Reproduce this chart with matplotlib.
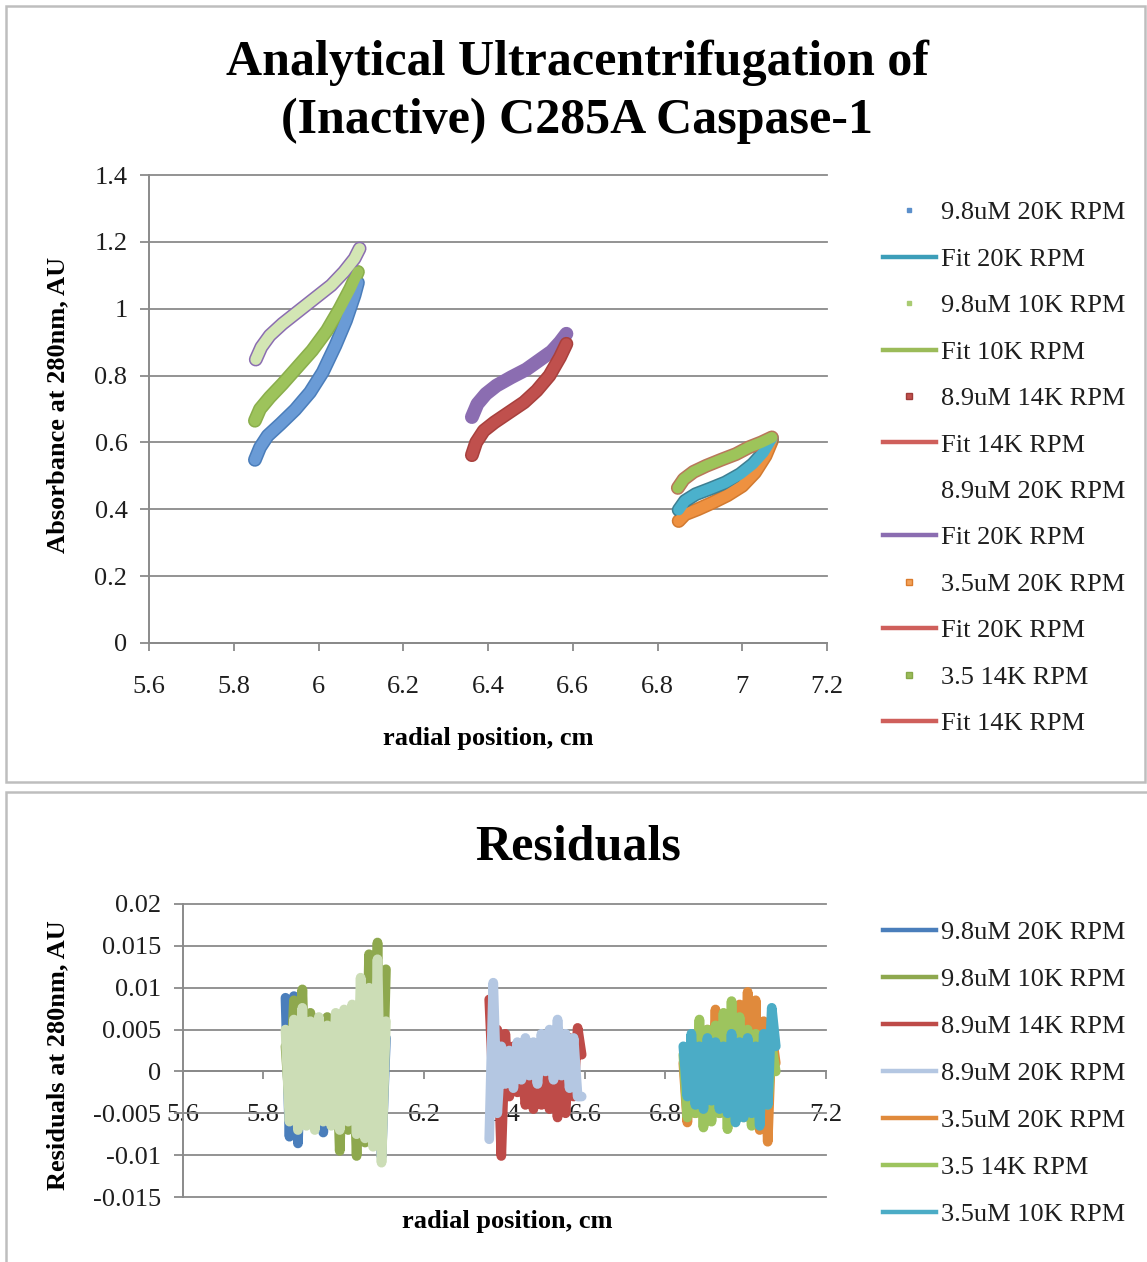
import matplotlib
matplotlib.use('Agg')
import matplotlib.pyplot as plt
from matplotlib.lines import Line2D
from matplotlib.patches import Rectangle
from matplotlib.ticker import FuncFormatter, MultipleLocator

plt.rcParams['font.family'] = ['Liberation Serif', 'DejaVu Serif']

# ---------------- data: top chart (radial position cm, absorbance AU) -------------
x_98_20k = [5.850, 5.862, 5.880, 5.910, 5.945, 5.980, 6.010, 6.040, 6.065, 6.085, 6.093]
y_98_20k = [0.548, 0.585, 0.620, 0.655, 0.698, 0.750, 0.810, 0.890, 0.965, 1.040, 1.078]

x_98_10k = [5.850, 5.862, 5.885, 5.915, 5.950, 5.985, 6.020, 6.050, 6.075, 6.093]
y_98_10k = [0.665, 0.700, 0.735, 0.775, 0.825, 0.875, 0.935, 1.000, 1.060, 1.110]

x_98_14k = [5.852, 5.865, 5.885, 5.915, 5.950, 5.990, 6.030, 6.060, 6.085, 6.097]
y_98_14k = [0.848, 0.885, 0.920, 0.955, 0.990, 1.030, 1.070, 1.110, 1.150, 1.180]

x_89_20k = [6.362, 6.375, 6.395, 6.420, 6.455, 6.490, 6.520, 6.550, 6.570, 6.585]
y_89_20k = [0.676, 0.715, 0.745, 0.770, 0.795, 0.818, 0.845, 0.872, 0.900, 0.925]

x_89_14k = [6.362, 6.372, 6.390, 6.415, 6.450, 6.485, 6.515, 6.545, 6.570, 6.585]
y_89_14k = [0.562, 0.600, 0.635, 0.660, 0.690, 0.720, 0.755, 0.800, 0.855, 0.895]

x_35_14k = [6.848, 6.862, 6.885, 6.915, 6.950, 6.985, 7.015, 7.045, 7.070]
y_35_14k = [0.464, 0.490, 0.512, 0.530, 0.548, 0.565, 0.585, 0.600, 0.615]

x_35_10k = [6.850, 6.865, 6.890, 6.925, 6.960, 6.995, 7.025, 7.050, 7.070]
y_35_10k = [0.398, 0.425, 0.445, 0.462, 0.480, 0.505, 0.535, 0.570, 0.612]

x_35_20k = [6.850, 6.865, 6.895, 6.930, 6.965, 7.000, 7.030, 7.055, 7.070]
y_35_20k = [0.365, 0.385, 0.400, 0.420, 0.442, 0.470, 0.510, 0.560, 0.605]

top_legend_labels = ['9.8uM 20K RPM', 'Fit 20K RPM', '9.8uM 10K RPM', 'Fit 10K RPM',
                     '8.9uM 14K RPM', 'Fit 14K RPM', '8.9uM 20K RPM', 'Fit 20K RPM',
                     '3.5uM 20K RPM', 'Fit 20K RPM', '3.5 14K RPM', 'Fit 14K RPM']

# ---------------- data: residuals --------------------------------------------------
rx_left = [5.855, 5.865, 5.876, 5.886, 5.897, 5.907, 5.917, 5.928, 5.938, 5.949, 5.959, 5.969,
           5.980, 5.990, 6.001, 6.011, 6.021, 6.032, 6.042, 6.053, 6.063, 6.073, 6.084, 6.094, 6.105]
r_98_20k = [0.0088, -0.0078, 0.0090, -0.0086, 0.0070, -0.0060, 0.0066, -0.0055, 0.0060, -0.0073,
            0.0050, -0.0045, 0.0055, -0.0060, 0.0045, -0.0050, 0.0060, -0.0065, 0.0080, -0.0070,
            0.0124, -0.0080, 0.0110, -0.0102, 0.0040]
r_98_10k = [0.0030, -0.0040, 0.0085, -0.0050, 0.0098, -0.0060, 0.0070, -0.0065, 0.0060, -0.0050,
            0.0065, -0.0060, 0.0055, -0.0095, 0.0050, -0.0070, 0.0060, -0.0101, 0.0080, -0.0085,
            0.0140, -0.0060, 0.0154, -0.0080, 0.0122]
r_98_14k = [0.0050, -0.0060, 0.0062, -0.0070, 0.0076, -0.0065, 0.0060, -0.0070, 0.0065, -0.0060,
            0.0055, -0.0065, 0.0070, -0.0070, 0.0074, -0.0060, 0.0080, -0.0075, 0.0112, -0.0080,
            0.0100, -0.0090, 0.0134, -0.0109, 0.0060]

rx_mid = [6.362, 6.372, 6.382, 6.392, 6.402, 6.412, 6.422, 6.432, 6.442, 6.452, 6.462, 6.472,
          6.482, 6.492, 6.502, 6.512, 6.522, 6.532, 6.542, 6.552, 6.562, 6.572, 6.582, 6.592]
r_89_14k = [0.0086, -0.0020, 0.0050, -0.0101, 0.0045, -0.0030, 0.0030, -0.0025, 0.0015, -0.0040,
            0.0005, -0.0045, 0.0010, -0.0040, -0.0005, -0.0045, 0.0005, -0.0055, 0.0015, -0.0050,
            0.0040, -0.0030, 0.0052, 0.0020]
r_89_20k = [-0.0081, 0.0106, -0.0050, 0.0030, -0.0015, 0.0025, -0.0020, 0.0035, -0.0010, 0.0040,
            -0.0005, 0.0035, -0.0015, 0.0045, 0.0000, 0.0050, -0.0010, 0.0062, -0.0005, 0.0045,
            -0.0020, 0.0040, -0.0030, -0.0030]

rx_right = [6.845, 6.855, 6.865, 6.875, 6.885, 6.895, 6.905, 6.915, 6.925, 6.935, 6.945, 6.955,
            6.965, 6.975, 6.985, 6.995, 7.005, 7.015, 7.025, 7.035, 7.045, 7.055, 7.065, 7.075]
r_35_20k = [0.0010, -0.0061, 0.0030, -0.0050, 0.0040, -0.0035, 0.0050, -0.0045, 0.0074, -0.0050,
            0.0055, -0.0040, 0.0065, -0.0055, 0.0080, -0.0045, 0.0095, -0.0060, 0.0085, -0.0070,
            0.0060, -0.0084, 0.0045, 0.0010]
r_35_14k = [0.0020, -0.0055, 0.0040, -0.0050, 0.0062, -0.0067, 0.0050, -0.0060, 0.0055, -0.0050,
            0.0070, -0.0069, 0.0084, -0.0045, 0.0065, -0.0055, 0.0050, -0.0065, 0.0045, -0.0050,
            0.0035, -0.0040, 0.0030, 0.0000]
r_35_10k = [0.0030, -0.0030, 0.0045, -0.0040, 0.0030, -0.0045, 0.0040, -0.0035, 0.0035, -0.0045,
            0.0030, -0.0050, 0.0045, -0.0061, 0.0035, -0.0055, 0.0040, -0.0050, 0.0030, -0.0065,
            0.0045, -0.0040, 0.0076, 0.0030]

resid_labels = ['9.8uM 20K RPM', '9.8uM 10K RPM', '8.9uM 14K RPM', '8.9uM 20K RPM',
                '3.5uM 20K RPM', '3.5 14K RPM', '3.5uM 10K RPM']

# ---------------- figure -----------------------------------------------------------
W, H = 1147, 1262
fig = plt.figure(figsize=(W / 100, H / 100), dpi=100)


def fx(px):
    return px / W


def fy(py):
    return 1 - py / H


# chart frames
for (x0, y0, x1, y1) in [(6, 6, 1145, 782), (6, 792, 1160, 1280)]:
    fig.add_artist(Rectangle((fx(x0), fy(y1)), fx(x1) - fx(x0), fy(y0) - fy(y1),
                             transform=fig.transFigure, fill=False, ec='#BEBEBE', lw=1.8,
                             clip_on=False))

GRID = '#8A8A8A'
TXT = '#1E1E1E'
fmt = FuncFormatter(lambda v, p: ('%g' % round(v, 6)))


def style(ax):
    for s in ['top', 'right']:
        ax.spines[s].set_visible(False)
    for s in ['left', 'bottom']:
        ax.spines[s].set_color(GRID)
        ax.spines[s].set_linewidth(1.4)
    ax.set_axisbelow(True)
    ax.yaxis.grid(True, color=GRID, lw=1.3)
    ax.tick_params(axis='both', direction='out', color=GRID, width=1.3,
                   labelsize=19, labelcolor=TXT)
    ax.tick_params(axis='y', length=6.5, pad=9)
    ax.tick_params(axis='x', length=5.8, pad=18)
    ax.xaxis.set_major_formatter(fmt)
    ax.yaxis.set_major_formatter(fmt)


# ---------------- top chart --------------------------------------------------------
ax1 = fig.add_axes([fx(149), fy(643), fx(827) - fx(149), fy(175) - fy(643)])
style(ax1)
ax1.set_xlim(5.6, 7.2)
ax1.set_ylim(0, 1.4)
ax1.xaxis.set_major_locator(MultipleLocator(0.2))
ax1.yaxis.set_major_locator(MultipleLocator(0.2))

FIT_TEAL = '#3C9EB9'
FIT_GREEN = '#9BBB59'
FIT_RED = '#CF5F5B'
FIT_PURPLE = '#8B6DB1'

curves = [
    (x_98_20k, y_98_20k, '#4A7DBA', '#6A9BD6', 10.0),
    (x_98_10k, y_98_10k, '#8AAE4C', '#9DC35B', 10.0),
    (x_98_14k, y_98_14k, FIT_PURPLE, '#D3E6B4', 10.0),
    (x_89_14k, y_89_14k, '#A8403D', '#C0504D', 10.0),
    (x_35_20k, y_35_20k, '#D27A30', '#EE9140', 10.0),
    (x_35_10k, y_35_10k, '#3E7F92', '#4BB1CC', 10.0),
    (x_35_14k, y_35_14k, '#B9775A', '#9DC45A', 10.0),
]
ax1.plot(x_89_20k, y_89_20k, color=FIT_PURPLE, lw=10, solid_capstyle='round',
         solid_joinstyle='round', zorder=3)
for xs, ys, edge, fill, w in curves:
    ax1.plot(xs, ys, color=edge, lw=w, solid_capstyle='round', solid_joinstyle='round', zorder=3)
    ax1.plot(xs, ys, color=fill, lw=w - 2.2, solid_capstyle='round', solid_joinstyle='round',
             zorder=4)
for ln in ax1.get_ygridlines():
    ln.set_clip_on(False)

top_handles = [
    Line2D([], [], ls='none', marker='s', ms=3.5, mfc='#5B8FCB', mec='#5B8FCB'),
    Line2D([], [], color=FIT_TEAL, lw=3.2),
    Line2D([], [], ls='none', marker='s', ms=3.5, mfc='#A9CB72', mec='#A9CB72'),
    Line2D([], [], color=FIT_GREEN, lw=3.2),
    Line2D([], [], ls='none', marker='s', ms=5, mfc='#C0504D', mec='#9E3B38'),
    Line2D([], [], color=FIT_RED, lw=3.2),
    Line2D([], [], ls='none', marker='none'),
    Line2D([], [], color=FIT_PURPLE, lw=3.2),
    Line2D([], [], ls='none', marker='s', ms=5, mfc='#F3A25A', mec='#DB7B2C'),
    Line2D([], [], color=FIT_RED, lw=3.2),
    Line2D([], [], ls='none', marker='s', ms=5, mfc='#9BBB59', mec='#86A848'),
    Line2D([], [], color=FIT_RED, lw=3.2),
]
leg1 = ax1.legend(top_handles, top_legend_labels, loc='upper left',
                  bbox_to_anchor=(fx(883), fy(201)), bbox_transform=fig.transFigure,
                  frameon=False, fontsize=19, handlelength=2.0, handletextpad=0.2,
                  labelspacing=0.87, borderpad=0, borderaxespad=0)
for t in leg1.get_texts():
    t.set_color(TXT)

fig.text(fx(577), fy(75), 'Analytical Ultracentrifugation of', ha='center', va='baseline',
         fontsize=36, fontweight='bold', color='black')
fig.text(fx(577), fy(133), '(Inactive) C285A Caspase-1', ha='center', va='baseline',
         fontsize=36, fontweight='bold', color='black')
fig.text(fx(488), fy(745), 'radial position, cm', ha='center', va='baseline',
         fontsize=19, fontweight='bold', color='black')
fig.text(fx(58), fy(405), 'Absorbance at 280nm, AU', ha='center', va='center',
         rotation=90, fontsize=19, fontweight='bold', color='black')

# ---------------- residual chart ---------------------------------------------------
ax2 = fig.add_axes([fx(183), fy(1197), fx(826) - fx(183), fy(904) - fy(1197)])
style(ax2)
ax2.set_xlim(5.6, 7.2)
ax2.set_ylim(-0.015, 0.02)
ax2.xaxis.set_major_locator(MultipleLocator(0.2))
ax2.yaxis.set_major_locator(MultipleLocator(0.005))
ax2.spines['bottom'].set_position(('data', 0))
ax2.tick_params(axis='x', pad=18)
for ln in ax2.get_ygridlines():
    ln.set_clip_on(False)

res_series = [
    (rx_left, r_98_20k, '#4A7EBB'),
    (rx_left, r_98_10k, '#8EA84E'),
    (rx_mid, r_89_14k, '#BE4B48'),
    (rx_mid, r_89_20k, '#B4C7E2'),
    (rx_right, r_35_20k, '#E08A3C'),
    (rx_right, r_35_14k, '#9DC45E'),
    (rx_right, r_35_10k, '#4BACC6'),
]
for xs, ys, c in res_series:
    ax2.plot(xs, ys, color=c, lw=7, solid_joinstyle='round', solid_capstyle='round', zorder=3)
ax2.plot(rx_left, r_98_14k, color='#CCDDB6', lw=7, solid_joinstyle='round',
         solid_capstyle='round', zorder=3)

res_handles = [Line2D([], [], color=c, lw=3.2) for _, _, c in res_series]
leg2 = ax2.legend(res_handles, resid_labels, loc='upper left',
                  bbox_to_anchor=(fx(883), fy(921)), bbox_transform=fig.transFigure,
                  frameon=False, fontsize=19, handlelength=2.0, handletextpad=0.2,
                  labelspacing=0.89, borderpad=0, borderaxespad=0)
for t in leg2.get_texts():
    t.set_color(TXT)

fig.text(fx(578), fy(860), 'Residuals', ha='center', va='baseline',
         fontsize=36, fontweight='bold', color='black')
fig.text(fx(507), fy(1228), 'radial position, cm', ha='center', va='baseline',
         fontsize=19, fontweight='bold', color='black')
fig.text(fx(58), fy(1055), 'Residuals at 280nm, AU', ha='center', va='center',
         rotation=90, fontsize=19, fontweight='bold', color='black')

fig.savefig('out.png', dpi=100, facecolor='white')
